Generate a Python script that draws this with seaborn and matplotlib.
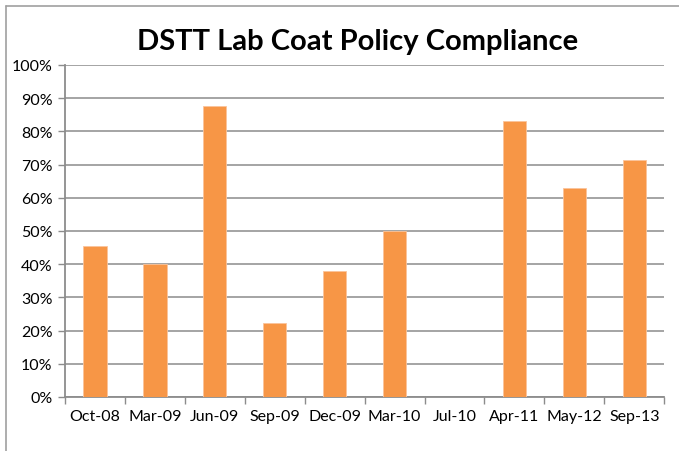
import matplotlib
matplotlib.use("Agg")
import matplotlib.pyplot as plt
import seaborn as sns
import pandas as pd
from matplotlib.ticker import PercentFormatter
from matplotlib.lines import Line2D

# data
months = ["Oct-08", "Mar-09", "Jun-09", "Sep-09", "Dec-09",
          "Mar-10", "Jul-10", "Apr-11", "May-12", "Sep-13"]
compliance = [45.5, 40.0, 87.5, 22.2, 38.0, 50.0, 0.0, 83.0, 63.0, 71.5]

df = pd.DataFrame({"Month": months, "Compliance": compliance})

sns.set_theme(style="white")
plt.rcParams["font.family"] = ["Lato", "DejaVu Sans"]

fig = plt.figure(figsize=(6.79, 4.52), dpi=100)
ax = fig.add_axes([0.0957, 0.1195, 0.8825, 0.7345])

sns.barplot(data=df, x="Month", y="Compliance", color="#F79646",
            saturation=1, width=0.39, edgecolor="#FBC49B", linewidth=0.6,
            ax=ax, zorder=3)

ax.set_ylim(0, 100)
ax.set_xlim(-0.5, len(months) - 0.5)
ax.set_yticks(range(0, 101, 10))
ax.yaxis.set_major_formatter(PercentFormatter(decimals=0))
ax.yaxis.grid(True, color="#8C8C8C", linewidth=1.1, zorder=0)
ax.set_axisbelow(True)
ax.set_xlabel("")
ax.set_ylabel("")

# ticks on the category boundaries along the x axis
ax.set_xticks([i - 0.5 for i in range(len(months) + 1)], minor=True)
ax.tick_params(axis="x", which="minor", length=5, width=1, color="#8C8C8C", direction="out")
ax.tick_params(axis="x", which="major", length=0, labelsize=11.5, pad=9, colors="black")
ax.tick_params(axis="y", length=5, width=1, color="#8C8C8C", direction="out",
               labelsize=11.5, pad=4, colors="black")
ax.xaxis.set_ticks_position("bottom")
ax.yaxis.set_ticks_position("left")

for side in ["top", "right"]:
    ax.spines[side].set_visible(False)
for side in ["left", "bottom"]:
    ax.spines[side].set_color("#8C8C8C")
    ax.spines[side].set_linewidth(1.3)

fig.text(0.526, 0.906, "DSTT Lab Coat Policy Compliance", ha="center", va="center",
         fontsize=21, fontweight="bold", color="black")

# outer chart border (top and left edges visible in the crop)
fig.add_artist(Line2D([0.009, 1.0], [0.985, 0.985], transform=fig.transFigure,
                      color="#A0A0A0", linewidth=1.2))
fig.add_artist(Line2D([0.009, 0.009], [0.0, 0.985], transform=fig.transFigure,
                      color="#A0A0A0", linewidth=1.2))

fig.savefig("out.png", dpi=100)
